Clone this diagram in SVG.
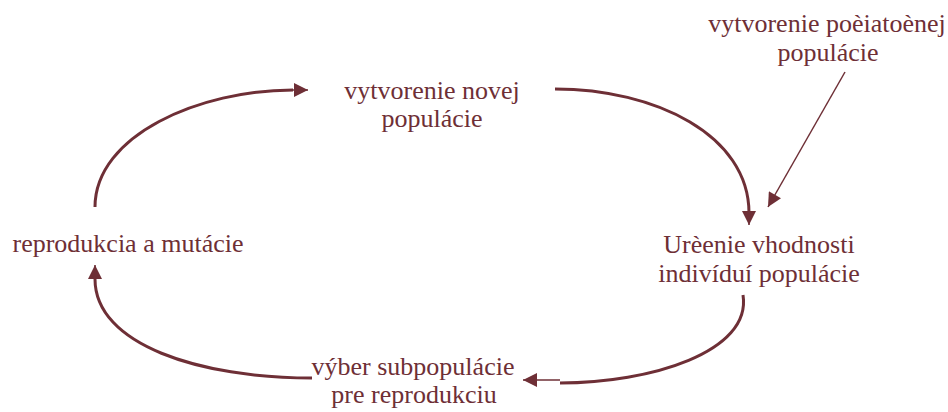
<svg xmlns="http://www.w3.org/2000/svg" width="948" height="412" viewBox="0 0 948 412" xml:lang="sk">
<style>
text{font-family:'Times New Roman','Liberation Serif',Tinos,serif;font-size:26px;fill:#6e2f36;text-anchor:middle}
.c{fill:none;stroke:#6e2f36;stroke-width:3}
.t{fill:none;stroke:#6e2f36;stroke-width:1.5}
</style>
<defs>
<marker id="ah" viewBox="0 0 10 10" refX="10" refY="5" markerWidth="15" markerHeight="14" markerUnits="userSpaceOnUse" orient="auto"><path d="M0,0L10,5L0,10z" fill="#6e2f36"/></marker>
</defs>
<rect width="948" height="412" fill="#fff"/>
<g id="connectors">
<path class="c" d="M95,207 C95,135 200,90 293,90"/>
<path class="t" d="M293,90 L308,90" marker-end="url(#ah)"/>
<path class="c" d="M555,89 C655,89 749,135 749,213"/>
<path class="t" d="M749,212 L749,225" marker-end="url(#ah)"/>
<path class="c" d="M743,295 C752,352 650,383 560,383"/>
<path class="t" d="M560,380 L523,380" marker-end="url(#ah)"/>
<path class="c" d="M312,378 C200,378 95,345 95,279"/>
<path class="t" d="M95,280 L95,265" marker-end="url(#ah)"/>
<path class="t" d="M845,72 L768,207" marker-end="url(#ah)"/>
</g>
<g id="node-nova"><text x="432" y="99">vytvorenie novej</text><text x="432" y="127">populácie</text></g>
<g id="node-pociatocna"><text x="827" y="32">vytvorenie poèiatoènej</text><text x="828" y="61">populácie</text></g>
<g id="node-vhodnost"><text x="759" y="253">Urèenie vhodnosti</text><text x="759" y="282">indivíduí populácie</text></g>
<g id="node-vyber"><text x="413" y="375">výber subpopulácie</text><text x="414" y="403">pre reprodukciu</text></g>
<g id="node-reprodukcia"><text x="128" y="252">reprodukcia a mutácie</text></g>
</svg>
